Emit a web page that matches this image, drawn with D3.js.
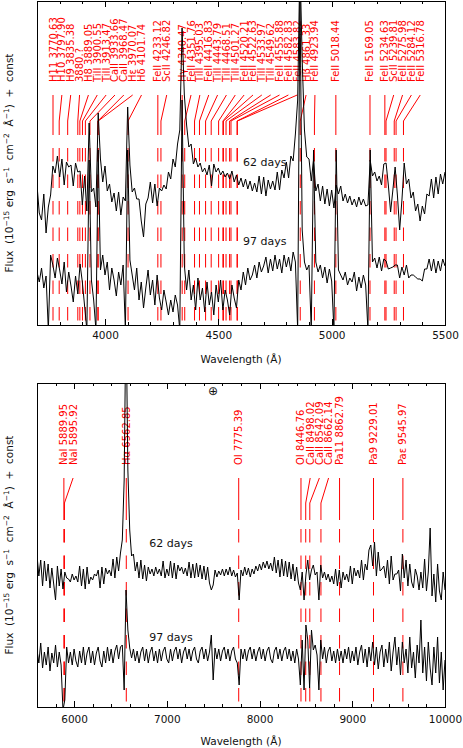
<!DOCTYPE html>
<html lang="en">
<head>
<meta charset="UTF-8">
<title>spectra 62 / 97 days</title>
<script src="https://d3js.org/d3.v7.min.js"></script>
<style>
    body { margin: 0; background: white; }
    svg { display: block; }
    text { font-family: "DejaVu Sans", sans-serif; }
</style>
</head>
<body>
<svg></svg>
<script>
// ---- data (flux + const, arbitrary units) ----
// blue panel: 3700-5500 A, one value every 10 A
var topStart = 3700, topStep = 10;
var top62 = [
    14.0, 11.2, 10.5, 13.1, 9.2, 11.8, 13.0, 15.9, 15.2, 16.9,
    14.8, 16.6, 14.0, 16.3, 15.8, 16.0, 13.9, 16.2, 15.3, 15.4,
    12.0, 14.9, 11.4, 20.2, 13.3, 13.7, 11.8, 21.2, 16.6, 14.3,
    15.9, 13.4, 14.1, 12.3, 13.2, 11.4, 13.3, 11.0, 12.8, 12.4,
    21.8, 16.0, 13.3, 13.7, 12.6, 12.6, 10.4, 8.8, 12.1, 12.7,
    14.3, 12.2, 14.1, 11.9, 13.7, 13.4, 14.0, 13.6, 15.3, 14.6,
    16.6, 15.8, 18.1, 19.5, 29.7, 23.0, 20.0, 17.8, 18.1, 16.1,
    16.7, 15.8, 16.2, 15.3, 15.7, 15.0, 16.0, 13.9, 16.1, 15.3,
    15.7, 15.0, 15.4, 14.8, 15.2, 14.6, 15.4, 14.3, 15.0, 14.0,
    14.7, 13.8, 14.6, 13.6, 14.4, 13.4, 14.2, 13.3, 14.9, 13.1,
    14.8, 12.9, 14.5, 13.6, 14.4, 13.5, 15.3, 13.5, 15.5, 14.7,
    16.3, 14.7, 16.9, 16.4, 19.1, 22.5, 36.5, 26.5, 19.5, 16.8,
    16.6, 14.4, 16.5, 13.4, 14.1, 12.4, 13.9, 12.1, 13.6, 11.9,
    13.5, 11.7, 14.0, 13.1, 13.9, 12.4, 13.1, 12.2, 12.9, 12.0,
    12.6, 11.8, 12.8, 12.0, 12.6, 11.9, 12.0, 16.5, 14.9, 15.3,
    14.4, 14.9, 14.0, 16.1, 16.2, 14.0, 11.3, 13.5, 15.8, 13.0,
    9.5, 12.5, 16.2, 14.1, 14.6, 12.7, 13.3, 11.4, 12.1, 10.4,
    11.9, 11.1, 13.1, 12.9, 14.6, 12.7, 14.8, 13.1, 15.1, 14.1,
    15.3
];
var top97 = [
    5.3, 4.3, 5.7, 3.7, 4.9, -0.5, 7.0, 6.0, 4.7, 6.7,
    5.5, 4.1, 6.3, 3.3, 5.3, 3.9, 2.3, 4.9, 3.1, 6.1,
    4.3, 1.9, -0.5, 16.5, 4.5, 2.5, -0.5, 17.5, 5.5, 7.0,
    5.0, 6.3, 3.5, 5.7, 4.5, 2.9, 5.3, 4.0, 6.0, -0.5,
    17.5, 6.5, 5.0, 3.5, 5.7, 2.5, 4.3, 1.7, 3.7, 5.5,
    3.0, 4.5, 2.0, 5.0, 2.7, 1.5, 3.5, 2.3, 1.0, 2.5,
    1.3, 3.0, 2.0, -0.5, 22.5, 6.0, 3.5, 5.5, 2.5, 4.0,
    1.5, 4.7, 2.5, 3.7, 1.3, 4.3, 2.0, 3.3, 1.0, 4.0,
    2.3, 4.5, 1.5, 3.5, 2.5, 1.0, 4.0, 2.7, 1.7, 4.5,
    3.5, 5.3, 4.0, 5.7, 4.5, 5.0, 6.0, 4.7, 6.3, 5.3,
    5.9, 6.8, 5.2, 6.6, 5.4, 7.0, 5.6, 6.6, 5.2, 7.0,
    5.8, 6.8, 5.4, 7.3, 6.3, -0.5, 33.5, 9.5, 6.3, 5.5,
    6.0, -0.5, 17.5, 6.3, 5.3, 6.0, 4.7, 5.8, 4.2, 5.6,
    4.4, -0.5, 17.5, 5.5, 5.0, 4.5, 5.3, 4.0, 4.7, 4.3,
    5.3, 3.4, 4.8, 3.7, 5.0, 4.0, -0.5, 17.5, 6.3, 6.7,
    5.7, 6.8, 5.4, 6.6, 6.4, 5.6, 5.7, 5.8, 6.0, 6.0,
    4.7, 5.8, 5.0, 6.0, 4.7, 5.0, 5.0, 4.8, 4.6, 4.6,
    4.4, 5.6, 5.6, 6.6, 5.4, 6.6, 5.2, 6.4, 5.4, 6.6,
    5.9
];

// red panel: 5600-10000 A, one value every 20 A
var botStart = 5600, botStep = 20;
var bot62 = [
    15.2, 13.1, 14.7, 12.1, 14.6, 12.6, 14.3, 11.9, 13.9, 12.3,
    10.7, 14.1, 12.1, 13.8, 11.8, 13.5, 12.9, 12.8, 12.5, 13.3,
    12.7, 13.1, 12.5, 14.1, 12.1, 13.8, 11.8, 14.0, 12.3, 13.0,
    12.7, 13.3, 13.1, 13.7, 11.9, 14.0, 12.3, 13.9, 13.3, 13.7,
    13.1, 14.8, 12.9, 15.0, 13.6, 15.4, 16.7, 22.7, 40.0, 23.7,
    17.7, 15.1, 15.3, 13.6, 14.5, 12.9, 14.7, 12.8, 14.2, 12.6,
    14.0, 13.3, 13.8, 13.1, 14.0, 13.3, 13.8, 13.1, 14.6, 12.9,
    13.8, 13.1, 14.6, 12.9, 14.4, 12.8, 14.2, 13.6, 14.0, 13.3,
    13.9, 13.1, 14.5, 12.9, 14.3, 12.9, 14.4, 13.0, 14.2, 12.8,
    14.1, 12.7, 14.0, 12.4, 11.7, 12.2, 13.7, 13.0, 13.6, 13.2,
    13.8, 13.1, 13.8, 13.2, 14.0, 13.1, 13.7, 13.0, 13.4, 10.7,
    13.7, 13.1, 14.0, 13.2, 13.9, 13.0, 13.8, 13.3, 14.1, 13.6,
    14.3, 13.7, 14.5, 13.9, 14.6, 13.8, 14.4, 13.6, 15.0, 13.4,
    14.7, 13.0, 14.8, 13.1, 14.6, 13.0, 14.5, 12.8, 14.3, 12.6,
    14.0, 12.4, 11.7, 13.5, 10.7, 13.2, 14.7, 12.7, 13.7, 14.2,
    13.2, 13.5, 10.7, 14.2, 12.9, 13.5, 12.7, 13.3, 12.5, 13.1,
    12.3, 13.8, 12.1, 13.7, 11.9, 13.5, 12.7, 13.3, 12.5, 14.1,
    12.3, 13.9, 13.1, 13.7, 12.9, 14.7, 12.7, 14.3, 13.7, 15.7,
    16.2, 14.1, 16.5, 13.1, 15.5, 13.6, 13.8, 14.1, 12.9, 14.7,
    12.3, 15.1, 12.7, 13.3, 13.3, 13.7, 11.6, 15.3, 12.9, 14.7,
    12.1, 14.3, 12.5, 11.9, 13.8, 13.1, 11.7, 13.5, 11.9, 14.8,
    11.6, 13.5, 17.9, 11.1, 13.3, 10.5, 14.3, 11.6, 10.7, 13.5,
    11.7
];
var bot97 = [
    5.7, 4.4, 6.4, 3.9, 5.5, 4.2, 6.0, 3.6, 5.4, 4.4,
    6.2, 4.0, 5.5, 4.2, -0.3, 0.7, 6.0, 4.4, 5.5, 4.2,
    5.8, 4.6, 4.0, 5.6, 4.4, 6.0, 4.2, 5.4, 6.0, 4.4,
    5.6, 4.2, 5.4, 6.0, 4.6, 4.0, 5.6, 4.4, 6.0, 4.6,
    5.8, 4.4, 5.6, 6.2, 4.8, 6.0, 6.2, 1.7, 11.7, 7.7,
    5.9, 4.9, 5.8, 4.6, 5.6, 4.4, 5.5, 6.0, 4.6, 5.8,
    4.4, 5.5, 6.0, 4.6, 5.6, 4.4, 5.8, 4.6, 5.6, 6.0,
    4.8, 4.4, 5.8, 4.6, 5.6, 6.0, 4.8, 5.8, 4.4, 5.5,
    6.0, 4.8, 5.8, 4.6, 5.6, 6.0, 4.8, 4.4, 5.6, 6.0,
    4.8, 5.8, 4.6, 5.5, 7.2, 2.7, 5.9, 4.8, 5.8, 4.6,
    5.6, 6.0, 4.8, 5.8, 4.6, 5.6, 6.0, 4.8, 4.4, 2.2,
    5.8, 4.8, 5.8, 4.6, 5.6, 6.0, 4.8, 5.8, 4.6, 5.5,
    6.0, 4.8, 5.8, 4.6, 5.6, 6.0, 4.8, 4.4, 5.6, 6.0,
    4.8, 5.8, 4.6, 5.6, 6.0, 4.8, 5.8, 4.6, 5.6, 4.4,
    5.8, 4.8, 2.2, 6.7, 1.7, 8.2, 6.7, 1.9, 7.7, 5.7,
    6.2, 5.2, 1.7, 6.7, 4.8, 6.0, 4.4, 5.6, 6.0, 4.6,
    5.6, 4.4, 5.8, 4.6, 5.6, 4.4, 5.8, 4.8, 6.0, 4.4,
    5.6, 4.6, 6.0, 4.2, 5.5, 6.2, 4.4, 5.8, 4.0, 6.0,
    4.6, 6.5, 4.2, 6.0, 3.8, 5.5, 6.2, 4.0, 5.8, 4.4,
    6.5, 3.6, 5.5, 7.0, 4.2, 6.0, 3.2, 6.5, 4.4, 5.8,
    3.4, 7.0, 3.9, 5.5, 2.9, 6.2, 4.4, 8.7, 3.4, 6.0,
    2.6, 6.5, 3.9, 2.2, 6.0, 3.4, 7.0, 2.4, 5.5, 1.7,
    4.7
];

// line identifications
var topLineNames = ["H11 3770.63", "H10 3797.90", "H9 3835.38", "3880.?", "H8 3889.05",
    "TiII 3900.55", "TiII 3913.47", "CaII 3933.66", "CaII 3968.47", "Hε 3970.07",
    "Hδ 4101.74", "FeII 4233.12", "ScII 4246.82", "Hγ 4340.47", "FeII 4351.76",
    "TiII 4395.03", "FeII 4416.83", "TiII 4443.79", "TiII 4468.51", "TiII 4501.27",
    "FeII 4520.21", "FeII 4522.63", "TiII 4533.97", "TiII 4549.62", "FeII 4555.88",
    "FeII 4582.83", "FeII 4583.82", "Hβ 4861.33", "FeII 4923.94", "FeII 5018.44",
    "FeII 5169.05", "FeII 5234.63", "ScII 5239.81", "FeII 5275.98", "FeII 5284.12",
    "FeII 5316.78"];
var topLineWaves = [3770.63, 3797.90, 3835.38, 3880.0, 3889.05,
    3900.55, 3913.47, 3933.66, 3968.47, 3970.07,
    4101.74, 4233.12, 4246.82, 4340.47, 4351.76,
    4395.03, 4416.83, 4443.79, 4468.51, 4501.27,
    4520.21, 4522.63, 4533.97, 4549.62, 4555.88,
    4582.83, 4583.82, 4861.33, 4923.94, 5018.44,
    5169.05, 5234.63, 5239.81, 5275.98, 5284.12,
    5316.78];
var botLineNames = ["NaI 5889.95", "NaI 5895.92", "Hα 6562.85", "OI 7775.39", "OI 8446.76",
    "CaII 8498.02", "CaII 8542.09", "CaII 8662.14", "Pa11 8862.79", "Pa9 9229.01", "Paε 9545.97"];
var botLineWaves = [5889.95, 5895.92, 6562.85, 7775.39, 8446.76,
    8498.02, 8542.09, 8662.14, 8862.79, 9229.01, 9545.97];

var topTicks = [4000, 4500, 5000, 5500];
var botTicks = [6000, 7000, 8000, 9000, 10000];
var epochLabels = ["62 days", "97 days"];

// ---- layout ----
var W = 463, H = 748;
var red = "#ff0000";
var svg = d3.select("svg").attr("width", W).attr("height", H);

var panels = [
    {id: "top", start: topStart, step: topStep, series: [top62, top97],
     names: topLineNames, waves: topLineWaves, domain: [3700, 5500], ticks: topTicks, minor: 100,
     y0: 1, y1: 325, labelBase: 82, connTop: 95, connMid: 121, connBot: 135, dashTop: 148, sep: 8.85,
     epochAt: [[4705, 15.9], [4705, 8.0]], tickPad: 6.5, titleY: 363, fluxY: 163},
    {id: "bot", start: botStart, step: botStep, series: [bot62, bot97],
     names: botLineNames, waves: botLineWaves, domain: [5600, 10000], ticks: botTicks, minor: 200,
     y0: 383, y1: 707, labelBase: 465, connTop: 478, connMid: 503, connBot: 520, dashTop: 529, sep: 9.2,
     epochAt: [[7045, 16.0], [7045, 6.6]], tickPad: 8.5, titleY: 745, fluxY: 545}
];

panels.forEach(function(p) {
    var x = d3.scaleLinear().domain(p.domain).range([37, 445]);
    var y = d3.scaleLinear().domain([0, (p.y1 - p.y0) / 10]).range([p.y1, p.y0]);
    var g = svg.append("g");

    g.append("clipPath").attr("id", "clip-" + p.id)
        .append("rect").attr("x", 37).attr("y", p.y0).attr("width", 408).attr("height", p.y1 - p.y0);

    // line markers: label pushed right to keep a minimum gap, then a bent leader
    var tx = p.waves.map(function(w) { return x(w); });
    var lx = [], last = -Infinity;
    tx.forEach(function(v) { var q = Math.max(v, last + p.sep); lx.push(q); last = q; });

    var marks = g.append("g").attr("stroke", red).attr("stroke-width", 1).attr("fill", "none");
    tx.forEach(function(v, i) {
        marks.append("path")
            .attr("d", "M" + lx[i] + "," + p.connTop + "L" + v + "," + p.connMid + "L" + v + "," + p.connBot);
        marks.append("line")
            .attr("x1", v).attr("x2", v).attr("y1", p.dashTop).attr("y2", p.y1)
            .attr("stroke-dasharray", "13.5,13");
    });
    g.append("g").selectAll("text").data(p.names).enter().append("text")
        .attr("transform", function(d, i) { return "translate(" + lx[i] + "," + p.labelBase + ") rotate(-90)"; })
        .attr("dy", "0.35em")
        .attr("fill", red)
        .attr("font-size", 10)
        .text(function(d) { return d; });

    // spectra
    var line = d3.line()
        .x(function(d, i) { return x(p.start + i * p.step); })
        .y(function(d) { return y(d); });
    g.append("g").attr("clip-path", "url(#clip-" + p.id + ")")
        .selectAll("path").data(p.series).enter().append("path")
        .attr("d", line)
        .attr("fill", "none")
        .attr("stroke", "#000")
        .attr("stroke-width", 1)
        .attr("stroke-linejoin", "round");

    // epoch labels
    g.selectAll("text.epoch").data(epochLabels).enter().append("text")
        .attr("class", "epoch")
        .attr("x", function(d, i) { return x(p.epochAt[i][0]); })
        .attr("y", function(d, i) { return y(p.epochAt[i][1]); })
        .attr("text-anchor", "middle")
        .attr("font-size", 11)
        .attr("fill", "#111")
        .text(function(d) { return d; });

    // frame and ticks
    g.append("rect").attr("x", 37).attr("y", p.y0).attr("width", 408).attr("height", p.y1 - p.y0)
        .attr("fill", "none").attr("stroke", "#000").attr("stroke-width", 1)
        .attr("shape-rendering", "crispEdges");

    var minorVals = d3.range(p.domain[0], p.domain[1] + 1, p.minor)
        .filter(function(v) { return p.ticks.indexOf(v) < 0; });

    function styleAxis(sel) {
        sel.select(".domain").remove();
        sel.selectAll("line").attr("shape-rendering", "crispEdges").attr("stroke", "#000");
        sel.attr("font-family", "DejaVu Sans").attr("font-size", 10.5);
        sel.selectAll("text").attr("fill", "#111");
    }
    g.append("g").attr("transform", "translate(0," + p.y1 + ")")
        .call(d3.axisBottom(x).tickValues(p.ticks).tickSize(-6).tickPadding(p.tickPad).tickFormat(d3.format("d")))
        .call(styleAxis);
    g.append("g").attr("transform", "translate(0," + p.y1 + ")")
        .call(d3.axisBottom(x).tickValues(minorVals).tickSize(-3).tickFormat(""))
        .call(styleAxis);
    g.append("g").attr("transform", "translate(0," + p.y0 + ")")
        .call(d3.axisTop(x).tickValues(p.ticks).tickSize(-6).tickFormat(""))
        .call(styleAxis);
    g.append("g").attr("transform", "translate(0," + p.y0 + ")")
        .call(d3.axisTop(x).tickValues(minorVals).tickSize(-3).tickFormat(""))
        .call(styleAxis);

    // axis titles
    g.append("text").attr("x", 241).attr("y", p.titleY).attr("text-anchor", "middle")
        .attr("font-size", 10.5).attr("fill", "#111").text("Wavelength (Å)");

    var ylab = g.append("text")
        .attr("transform", "translate(9," + p.fluxY + ") rotate(-90)")
        .attr("text-anchor", "middle").attr("dy", "0.35em")
        .attr("font-size", 10.5).attr("fill", "#111");
    var parts = [["Flux  (10", 0], ["−15", 1], [" erg  s", 0], ["−1", 1], ["  cm", 0], ["−2", 1],
        ["  Å", 0], ["−1", 1], [")  +  const", 0]];
    parts.forEach(function(pt) {
        ylab.append("tspan")
            .attr("font-size", pt[1] ? 7.5 : 10.5)
            .attr("baseline-shift", pt[1] ? "super" : null)
            .style("white-space", "pre")
            .text(pt[0]);
    });
});

// telluric marker
svg.append("text").attr("x", 213).attr("y", 395).attr("text-anchor", "middle")
    .attr("font-size", 12).attr("fill", "#111").text("⊕");
</script>
</body>
</html>
